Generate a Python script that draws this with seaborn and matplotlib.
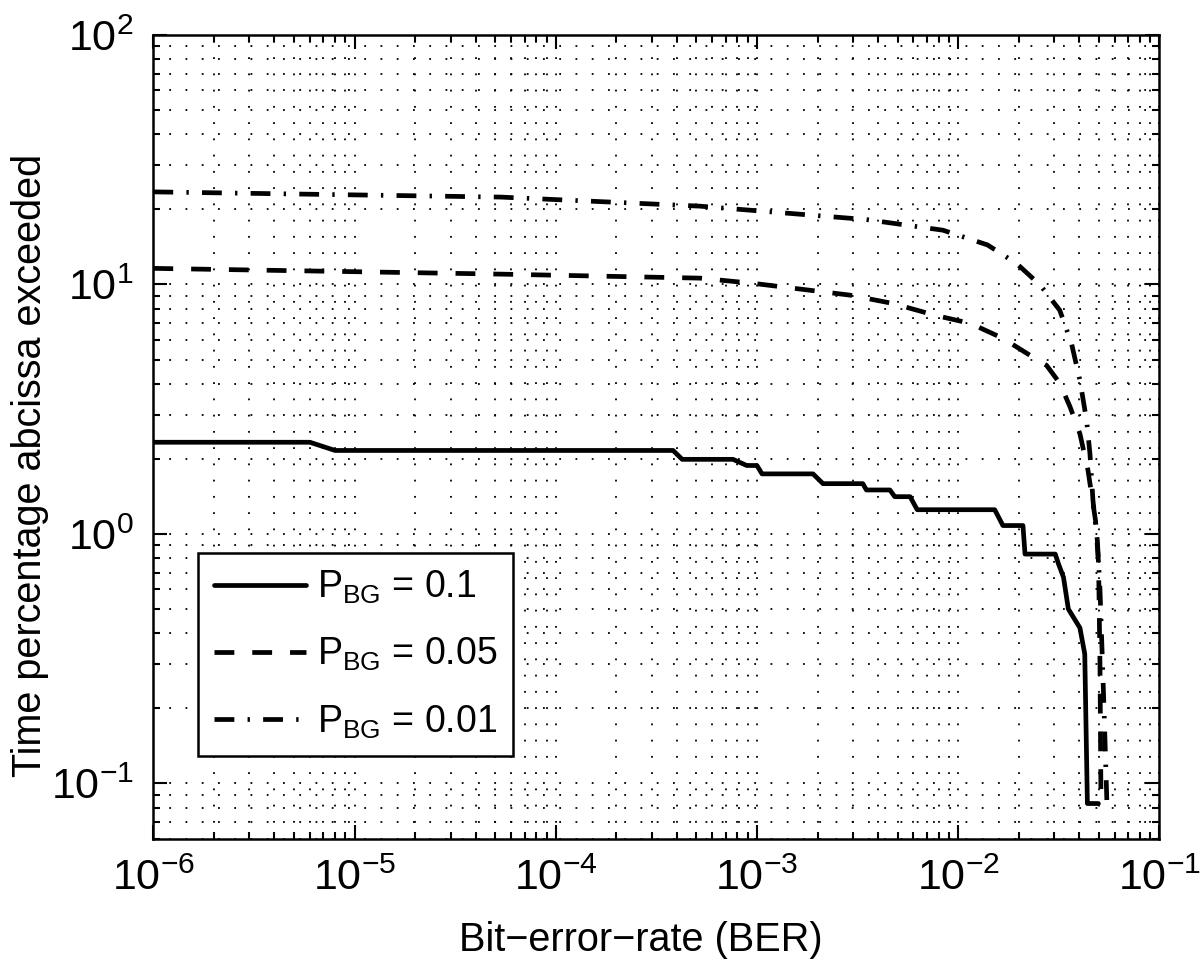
import seaborn as sns
import matplotlib
matplotlib.use('Agg')
import matplotlib.pyplot as plt
from matplotlib.ticker import LogLocator, NullFormatter

# BER vs. time percentage
ber_01 = [1e-6, 6.0e-6, 8.0e-6, 3.83e-4, 4.25e-4, 7.6e-4, 8.9e-4, 1.0e-3, 1.06e-3,
          1.9e-3, 2.13e-3, 3.36e-3, 3.5e-3, 4.58e-3, 4.84e-3, 5.77e-3, 6.26e-3,
          1.52e-2, 1.67e-2, 2.1e-2, 2.15e-2, 3.04e-2, 3.15e-2, 3.34e-2, 3.53e-2,
          4.03e-2, 4.26e-2, 4.39e-2, 4.98e-2]
pct_01 = [2.33, 2.33, 2.16, 2.16, 1.99, 1.99, 1.88, 1.88, 1.74,
          1.74, 1.59, 1.59, 1.50, 1.50, 1.41, 1.41, 1.25,
          1.25, 1.08, 1.08, 0.83, 0.83, 0.76, 0.67, 0.50,
          0.42, 0.33, 0.083, 0.083]

ber_005 = [1e-6, 5.3e-5, 5.2e-4, 9.6e-4, 2.9e-3, 4.7e-3, 7.8e-3, 1.15e-2, 1.67e-2,
           2.19e-2, 2.75e-2, 3.2e-2, 3.6e-2, 4.03e-2, 4.42e-2, 4.82e-2, 4.99e-2,
           5.07e-2, 5.13e-2]
pct_005 = [11.6, 11.0, 10.6, 10.1, 9.06, 8.4, 7.5, 6.98, 6.08,
           5.3, 4.74, 4.02, 3.23, 2.52, 1.8, 1.13, 0.76,
           0.3, 0.083]

ber_001 = [1e-6, 5.3e-5, 5.2e-4, 3.5e-3, 8.4e-3, 1.4e-2, 1.96e-2, 2.56e-2, 3.2e-2,
           3.66e-2, 4.03e-2, 4.35e-2, 4.52e-2, 4.68e-2, 4.92e-2, 5.07e-2, 5.31e-2,
           5.49e-2]
pct_001 = [23.5, 22.4, 20.6, 18.2, 16.5, 14.4, 12.1, 9.93, 7.88,
           5.8, 4.13, 2.85, 2.1, 1.36, 0.94, 0.6, 0.2,
           0.083]

labels = [r'P$_{\mathregular{BG}}$ = 0.1', r'P$_{\mathregular{BG}}$ = 0.05', r'P$_{\mathregular{BG}}$ = 0.01']
styles = ['-', (0, (4.2, 3.8)), (0, (4.2, 2.8, 0.5, 2.8))]

sns.set_style('ticks')
plt.rcParams['font.family'] = ['Liberation Sans', 'DejaVu Sans']
plt.rcParams['mathtext.fontset'] = 'custom'
plt.rcParams['mathtext.rm'] = 'Liberation Sans'
plt.rcParams['axes.unicode_minus'] = True
plt.rcParams['text.color'] = 'black'
plt.rcParams['axes.labelcolor'] = 'black'

fig = plt.figure(figsize=(12, 9.64), dpi=100)
ax = fig.add_axes([0.1278, 0.130, 0.8383, 0.8337])

series = [(ber_01, pct_01), (ber_005, pct_005), (ber_001, pct_001)]
for (xs, ys), lab, ls in zip(series, labels, styles):
    sns.lineplot(x=xs, y=ys, ax=ax, color='black', linewidth=3.4, linestyle=ls,
                 sort=False, estimator=None, label=lab)
for line in ax.get_lines():
    line.set_linewidth(3.4)

ax.set_xscale('log')
ax.set_yscale('log')
ax.set_xlim(1e-6, 1e-1)
ax.set_ylim(0.06, 100)

ax.xaxis.set_major_locator(LogLocator(base=10, numticks=10))
ax.yaxis.set_major_locator(LogLocator(base=10, numticks=10))
ax.xaxis.set_minor_locator(LogLocator(base=10, subs=range(2, 10), numticks=20))
ax.yaxis.set_minor_locator(LogLocator(base=10, subs=range(2, 10), numticks=20))
ax.xaxis.set_minor_formatter(NullFormatter())
ax.yaxis.set_minor_formatter(NullFormatter())

ax.grid(True, which='both', color='black', linestyle=(0, (1, 8)), linewidth=1.3)
ax.tick_params(which='both', direction='in', top=True, right=True, width=1.5,
               labelsize=31, colors='black')
ax.tick_params(which='major', length=10, pad=14)
ax.tick_params(which='minor', length=5)
for sp in ax.spines.values():
    sp.set_linewidth(1.8)
    sp.set_color('black')

ax.set_xlabel('Bit\u2212error\u2212rate (BER)', fontsize=28.5, va='center')
ax.set_ylabel('Time percentage abcissa exceeded', fontsize=28.5, va='center', ha='center')
ax.xaxis.set_label_coords(0.485, -0.126)
ax.yaxis.set_label_coords(-0.1226, 0.465)

leg = ax.legend(loc='upper left', bbox_to_anchor=(0.0444, 0.3555), borderaxespad=0,
                fontsize=27, frameon=True, fancybox=False, edgecolor='black',
                framealpha=1, handlelength=2.45, handletextpad=0.3, labelspacing=0.8,
                borderpad=0.42)
leg.get_frame().set_linewidth(1.8)
for h in leg.get_lines():
    h.set_linewidth(3.4)

fig.savefig('out.png', dpi=100)
